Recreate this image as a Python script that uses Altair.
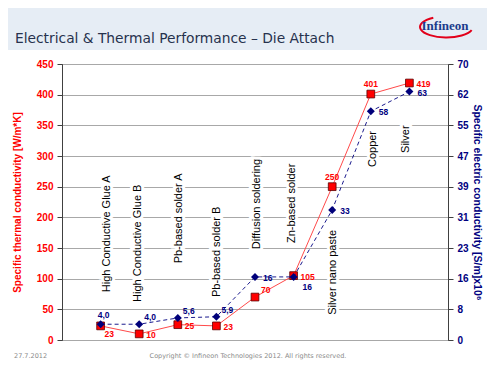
import json
import altair as alt
import pandas as pd

# ---------------- data ----------------
categories = ["High Conductive Glue A", "High Conductive Glue B", "Pb-based solder A",
              "Pb-based solder B", "Diffusion soldering", "Zn-based solder",
              "Silver nano paste", "Copper", "Silver"]
thermal = [23, 10, 25, 23, 70, 105, 250, 401, 419]
electric = [4.0, 4.0, 5.6, 5.9, 16, 16, 33, 58, 63]
electric_text = ["4,0", "4,0", "5,6", "5,9", "16", "16", "33", "58", "63"]
thermal_label_side = ["rd", "r", "r", "r", "ru", "r", "a", "a", "r"]
electric_label_side = ["a", "ru", "ru", "ru", "r", "rd", "r", "r", "r"]
# anchor of the rotated category labels (x in category slots, y on thermal scale)
cat_label_x = [1.17, 1.97, 3.03, 4.02, 5.05, 5.96, 7.02, 8.06, 8.91]
cat_label_base = [78, 62, 125, 70, 148, 158, 41, 282, 305]
left_ticks = [0, 50, 100, 150, 200, 250, 300, 350, 400, 450]
right_tick_labels = ["0", "8", "16", "23", "31", "39", "47", "55", "62", "70"]

df = pd.DataFrame({
    "pos": list(range(1, len(categories) + 1)),
    "cat": categories,
    "thermal": thermal,
    "electric": electric,
    "etext": electric_text,
    "tside": thermal_label_side,
    "eside": electric_label_side,
    "lx": cat_label_x,
    "lb": cat_label_base,
})

W, H = 386, 276
FONT = "Liberation Sans"
RED = "#ff0000"
NAVY = "#000080"

xs = alt.Scale(domain=[0, 10], nice=False)

left_axis = alt.Axis(
    orient="left", values=left_ticks, title="Specific thermal conductivity [W/m*K]",
    titleColor=RED, titleFont=FONT, titleFontSize=10, titleFontWeight="bold", titlePadding=14,
    labelColor=RED, labelFont=FONT, labelFontSize=10, labelFontWeight="bold", labelPadding=4,
    grid=True, gridColor="#a8a8a8", domainColor="#404040", tickColor="#404040", tickSize=5,
)
right_vals = [70 * k / 9 for k in range(10)]
right_axis = alt.Axis(
    orient="right", values=right_vals,
    labelExpr=json.dumps(right_tick_labels) + "[round(datum.value*9/70)]",
    title="Specific electric conductivity [S/m]x10\u2076",
    titleColor=NAVY, titleFont=FONT, titleFontSize=10.5, titleFontWeight="bold", titlePadding=3,
    labelColor=NAVY, labelFont=FONT, labelFontSize=10, labelFontWeight="bold", labelPadding=4,
    grid=False, domainColor="#404040", tickColor="#404040", tickSize=5,
)


def ly(field):
    return alt.Y(f"{field}:Q", scale=alt.Scale(domain=[0, 450], nice=False), axis=left_axis)


def ry(field):
    return alt.Y(f"{field}:Q", scale=alt.Scale(domain=[0, 70], nice=False), axis=right_axis)


base = alt.Chart(df)

# rotated category labels (white halo first, then text)
cat_halo = base.mark_text(angle=270, align="left", baseline="middle", font=FONT, fontSize=11,
                          fill="white", stroke="white", strokeWidth=6).encode(
    x=alt.X("lx:Q", scale=xs, axis=None), y=ly("lb"), text="cat:N")
cat_text = base.mark_text(angle=270, align="left", baseline="middle", font=FONT, fontSize=11,
                          color="black").encode(
    x=alt.X("lx:Q", scale=xs, axis=None), y=ly("lb"), text="cat:N")

red_line = base.mark_line(color="#ff4a4a", strokeWidth=1).encode(
    x=alt.X("pos:Q", scale=xs, axis=None), y=ly("thermal"))
red_pts = base.mark_point(shape="square", filled=True, fill=RED, stroke="#5a0000",
                          strokeWidth=0.8, size=60, opacity=1).encode(
    x=alt.X("pos:Q", scale=xs, axis=None), y=ly("thermal"))

red_offsets = {"r": (7, 1, "left"), "rd": (4, 8, "left"), "ru": (6, -7, "left"), "a": (0, -10, "center")}
red_labels = []
for side, (dx, dy, al) in red_offsets.items():
    red_labels.append(base.transform_filter(alt.datum.tside == side).mark_text(
        dx=dx, dy=dy, align=al, baseline="middle", font=FONT, fontSize=8.5,
        fontWeight="bold", color=RED).encode(
        x=alt.X("pos:Q", scale=xs, axis=None), y=ly("thermal"), text="thermal:Q"))

left = alt.layer(cat_halo, cat_text, red_line, red_pts, *red_labels)

blue_line = base.mark_line(color=NAVY, strokeWidth=0.9, strokeDash=[4, 3]).encode(
    x=alt.X("pos:Q", scale=xs, axis=None), y=ry("electric"))
blue_pts = base.mark_point(shape="diamond", filled=True, color="#00007a", size=64,
                           opacity=1).encode(
    x=alt.X("pos:Q", scale=xs, axis=None), y=ry("electric"))
blue_offsets = {"r": (8, 1, "left"), "ru": (5, -7, "left"), "rd": (9, 10, "left"), "a": (3, -9, "center")}
blue_labels = []
for side, (dx, dy, al) in blue_offsets.items():
    blue_labels.append(base.transform_filter(alt.datum.eside == side).mark_text(
        dx=dx, dy=dy, align=al, baseline="middle", font=FONT, fontSize=8.5,
        fontWeight="bold", color=NAVY).encode(
        x=alt.X("pos:Q", scale=xs, axis=None), y=ry("electric"), text="etext:N"))

right = alt.layer(blue_line, blue_pts, *blue_labels)

# slide decoration (header band, title, logo, footer)
one = pd.DataFrame({"k": [0]})
band = alt.Chart(one).mark_rect(color="#e6edf5").encode(
    x=alt.value(-54), x2=alt.value(W + 39), y=alt.value(-56), y2=alt.value(-14))
title = alt.Chart(one).mark_text(align="left", baseline="alphabetic", font="DejaVu Sans",
                                 fontSize=13.8, color="#27324d").encode(
    x=alt.value(-47), y=alt.value(-21), text=alt.value("Electrical & Thermal Performance \u2013 Die Attach"))
logo_arc = alt.Chart(one).mark_point(
    shape="M -0.48 -0.35 A 1 0.4 0 1 0 0.97 0.12", filled=False, stroke="#e2001a",
    strokeWidth=2, size=2800, opacity=1).encode(x=alt.value(384), y=alt.value(-37))
logo_text = alt.Chart(one).mark_text(align="center", baseline="middle", font="Liberation Sans Narrow",
                                     fontSize=13, fontWeight="bold", color="#1a3c8c").encode(
    x=alt.value(383), y=alt.value(-38), text=alt.value("Infineon"))
foot1 = alt.Chart(one).mark_text(align="left", baseline="middle", font="DejaVu Sans",
                                 fontSize=6.5, color="#8a8a8a").encode(
    x=alt.value(-48), y=alt.value(292), text=alt.value("27.7.2012"))
foot2 = alt.Chart(one).mark_text(align="center", baseline="middle", font="DejaVu Sans",
                                 fontSize=6.5, color="#8a8a8a").encode(
    x=alt.value(186), y=alt.value(292),
    text=alt.value("Copyright \u00a9 Infineon Technologies 2012. All rights reserved."))

chart = alt.layer(band, title, logo_arc, logo_text, foot1, foot2, left, right).resolve_scale(
    y="independent"
).properties(
    width=W, height=H, autosize="none",
    padding={"left": 54, "top": 56, "right": 41, "bottom": 23},
    background="white",
).configure_view(stroke="#404040", strokeWidth=1)

chart.save("out.html", embed_options={"renderer": "svg", "actions": False})
